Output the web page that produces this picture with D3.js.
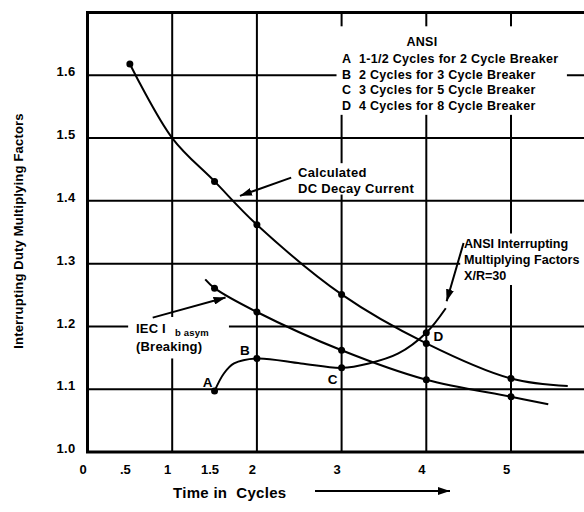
<!DOCTYPE html>
<html lang="en">
  <head>
    <meta charset="UTF-8" />
    <title>Interrupting Duty Multiplying Factors</title>
    <script src="https://d3js.org/d3.v7.min.js"></script>
    <style>
      body {
        margin: 0;
        background: #fff;
      }
      svg {
        display: block;
        font-family: 'Liberation Sans', Arial, Helvetica, sans-serif;
      }
    </style>
  </head>
  <body>
    <div id="chartContainer"></div>
    <script>
      // values
      const xTicks = [0, 0.5, 1, 1.5, 2, 3, 4, 5];
      const xTickLabels = ['0', '.5', '1', '1.5', '2', '3', '4', '5'];
      const xGrid = [1, 2, 3, 4, 5];
      const yTicks = [1.0, 1.1, 1.2, 1.3, 1.4, 1.5, 1.6];
      const yTickLabels = ['1.0', '1.1', '1.2', '1.3', '1.4', '1.5', '1.6'];

      // [cycles, factor]
      const dcDecay = [
        [0.5, 1.618], [1.0, 1.5], [1.5, 1.431], [2, 1.362], [3, 1.251],
        [4, 1.173], [5, 1.117], [5.67, 1.105],
      ];
      const dcDecayMarks = [0.5, 1.5, 2, 3, 4, 5];

      const iecBreaking = [
        [1.39, 1.275], [1.5, 1.261], [2, 1.223], [3, 1.162], [4, 1.115],
        [5, 1.088], [5.44, 1.076],
      ];
      const iecMarks = [1.5, 2, 3, 4, 5];

      const ansiFactors = [
        [1.5, 1.097], [1.61, 1.125], [1.73, 1.141], [2, 1.149], [2.52, 1.141],
        [3, 1.134], [3.32, 1.141], [3.67, 1.157], [4, 1.19], [4.23, 1.229],
      ];
      const ansiMarks = [1.5, 2, 3, 4];
      const ansiLetters = ['A', 'B', 'C', 'D'];

      const legendTitle = 'ANSI';
      const legendLetters = ['A', 'B', 'C', 'D'];
      const legendTexts = [
        '1-1/2 Cycles for 2 Cycle Breaker',
        '2 Cycles for 3 Cycle Breaker',
        '3 Cycles for 5 Cycle Breaker',
        '4 Cycles for 8 Cycle Breaker',
      ];

      const width = 584;
      const height = 512;

      const x = d3.scaleLinear().domain([0, 5.9]).range([87.5, 87.5 + 5.9 * 84.7]);
      const y = d3.scaleLinear().domain([1.0, 1.7]).range([452, 12.5]);

      const svg = d3
        .select('#chartContainer')
        .append('svg')
        .attr('width', width)
        .attr('height', height);

      svg.append('rect').attr('width', width).attr('height', height).attr('fill', '#fff');

      const defs = svg.append('defs');
      defs
        .append('marker')
        .attr('id', 'arrow')
        .attr('viewBox', '0 0 12 8')
        .attr('refX', 12)
        .attr('refY', 4)
        .attr('markerWidth', 12)
        .attr('markerHeight', 8)
        .attr('markerUnits', 'userSpaceOnUse')
        .attr('orient', 'auto')
        .append('path')
        .attr('d', 'M0,0 L12,4 L0,8 Z')
        .attr('fill', '#000');

      // grid
      const grid = svg.append('g').attr('stroke', '#000').attr('stroke-width', 2);
      grid
        .selectAll('line.h')
        .data(yTicks.slice(1))
        .enter()
        .append('line')
        .attr('x1', x(0))
        .attr('x2', width)
        .attr('y1', d => y(d))
        .attr('y2', d => y(d));
      grid
        .selectAll('line.v')
        .data(xGrid)
        .enter()
        .append('line')
        .attr('x1', d => x(d))
        .attr('x2', d => x(d))
        .attr('y1', y(1.7))
        .attr('y2', y(1.0));

      // frame (left, top, bottom) - chart runs off the right edge
      svg
        .append('path')
        .attr('d', `M${width},${y(1.7)} H${x(0)} V${y(1.0)} H${width}`)
        .attr('fill', 'none')
        .attr('stroke', '#000')
        .attr('stroke-width', 3);

      // white boxes behind the labels, in chart units [x0, y0, x1, y1]
      const boxes = [
        [2.94, 1.678, 5.66, 1.537],
        [2.4, 1.46, 3.9, 1.41],
        [0.48, 1.215, 1.67, 1.149],
        [4.4, 1.348, 5.9, 1.266],
      ];
      svg
        .selectAll('rect.box')
        .data(boxes)
        .enter()
        .append('rect')
        .attr('x', d => x(d[0]))
        .attr('y', d => y(d[1]))
        .attr('width', d => x(d[2]) - x(d[0]))
        .attr('height', d => y(d[3]) - y(d[1]))
        .attr('fill', '#fff');

      // axes tick labels
      svg
        .append('g')
        .attr('transform', `translate(0,${y(1.0)})`)
        .call(
          d3
            .axisBottom(x)
            .tickValues(xTicks)
            .tickFormat((d, i) => xTickLabels[i])
            .tickSize(0)
            .tickPadding(13)
        )
        .call(g => g.select('.domain').remove())
        .selectAll('text')
        .attr('dx', -5)
        .style('font-size', '13px')
        .style('font-weight', 'bold')
        .attr('font-family', null);

      svg
        .append('g')
        .attr('transform', `translate(${x(0)},0)`)
        .call(
          d3
            .axisLeft(y)
            .tickValues(yTicks)
            .tickFormat((d, i) => yTickLabels[i])
            .tickSize(0)
            .tickPadding(12)
        )
        .call(g => g.select('.domain').remove())
        .selectAll('text')
        .attr('dy', '0.05em')
        .style('font-size', '13px')
        .style('font-weight', 'bold')
        .style('letter-spacing', '0.3px')
        .attr('font-family', null);

      // curves
      const line = d3
        .line()
        .x(d => x(d[0]))
        .y(d => y(d[1]))
        .curve(d3.curveCatmullRom.alpha(0.5));

      const series = [
        { pts: dcDecay, marks: dcDecayMarks },
        { pts: iecBreaking, marks: iecMarks },
        { pts: ansiFactors, marks: ansiMarks },
      ];

      series.forEach(s => {
        svg
          .append('path')
          .datum(s.pts)
          .attr('fill', 'none')
          .attr('stroke', '#000')
          .attr('stroke-width', 2)
          .attr('d', line);
        svg
          .selectAll(null)
          .data(s.pts.filter(p => s.marks.includes(p[0])))
          .enter()
          .append('circle')
          .attr('cx', d => x(d[0]))
          .attr('cy', d => y(d[1]))
          .attr('r', 3.5)
          .attr('fill', '#000');
      });

      // A B C D letters next to ANSI points
      const letterOffsets = [[-7, -4], [-12, -3], [-9, 16], [12, 8]];
      const ansiPts = ansiFactors.filter(p => ansiMarks.includes(p[0]));
      svg
        .selectAll('text.letter')
        .data(ansiPts)
        .enter()
        .append('text')
        .attr('x', (d, i) => x(d[0]) + letterOffsets[i][0])
        .attr('y', (d, i) => y(d[1]) + letterOffsets[i][1])
        .attr('text-anchor', 'middle')
        .style('font-size', '13.5px')
        .style('font-weight', 'bold')
        .text((d, i) => ansiLetters[i]);

      // legend
      const legend = svg
        .append('g')
        .style('font-weight', 'bold')
        .style('font-size', '12.5px')
        .style('letter-spacing', '0.3px');
      legend
        .append('text')
        .attr('x', 422)
        .attr('y', 46)
        .attr('text-anchor', 'middle')
        .text(legendTitle);
      legendTexts.forEach((t, i) => {
        legend
          .append('text')
          .attr('x', 342)
          .attr('y', 63 + i * 15.7)
          .text(legendLetters[i]);
        legend
          .append('text')
          .attr('x', 359)
          .attr('y', 63 + i * 15.7)
          .text(t);
      });

      // annotations
      function addLabel(lines, px, py, step, size, spacing) {
        const t = svg
          .append('text')
          .style('font-size', size + 'px')
          .style('font-weight', 'bold')
          .style('letter-spacing', spacing + 'px');
        lines.forEach((l, i) => {
          t.append('tspan').attr('x', px).attr('y', py + i * step).text(l);
        });
        return t;
      }

      addLabel(['Calculated', 'DC Decay Current'], 298, 177, 16, 13, 0.3);
      addLabel(['ANSI Interrupting', 'Multiplying Factors', 'X/R=30'], 464, 248, 16, 12.6, 0);

      const iec = svg
        .append('text')
        .style('font-size', '13px')
        .style('font-weight', 'bold')
        .style('letter-spacing', '0.2px');
      iec.append('tspan').attr('x', 136).attr('y', 333).text('IEC I');
      iec
        .append('tspan')
        .attr('x', 175)
        .attr('y', 336)
        .style('font-size', '9.5px')
        .text('b asym');
      iec.append('tspan').attr('x', 136).attr('y', 351).text('(Breaking)');

      const arrows = [
        [[2.405, 1.437], [1.8, 1.408]],
        [[0.77, 1.214], [1.63, 1.246]],
        [[4.44, 1.333], [4.24, 1.24]],
      ];
      svg
        .selectAll('line.arrow')
        .data(arrows)
        .enter()
        .append('line')
        .attr('x1', d => x(d[0][0]))
        .attr('y1', d => y(d[0][1]))
        .attr('x2', d => x(d[1][0]))
        .attr('y2', d => y(d[1][1]))
        .attr('stroke', '#000')
        .attr('stroke-width', 2)
        .attr('marker-end', 'url(#arrow)');

      // axis titles
      svg
        .append('text')
        .attr('transform', `translate(23,${231}) rotate(-90)`)
        .attr('text-anchor', 'middle')
        .style('font-size', '13px')
        .style('font-weight', 'bold')
        .style('letter-spacing', '0.2px')
        .text('Interrupting Duty Multiplying Factors');

      svg
        .append('text')
        .attr('x', 173)
        .attr('y', 498)
        .style('font-size', '15px')
        .style('font-weight', 'bold')
        .style('letter-spacing', '0.3px')
        .style('white-space', 'pre')
        .text('Time in  Cycles');

      svg
        .append('line')
        .attr('x1', 315)
        .attr('y1', 491)
        .attr('x2', 450)
        .attr('y2', 491)
        .attr('stroke', '#000')
        .attr('stroke-width', 2)
        .attr('marker-end', 'url(#arrow)');
    </script>
  </body>
</html>
